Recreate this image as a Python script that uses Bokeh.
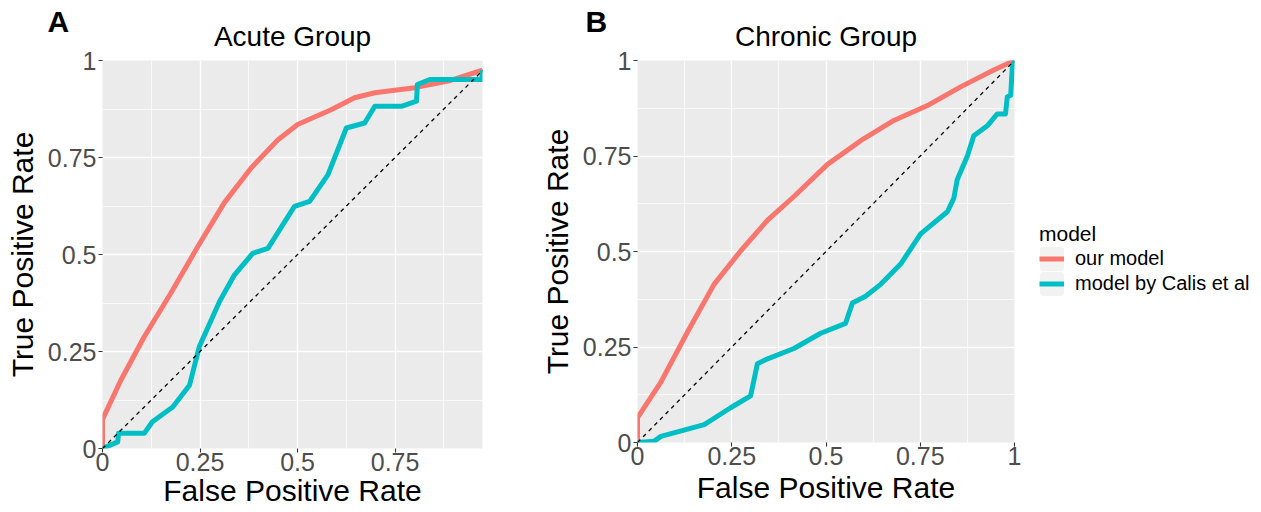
from bokeh.plotting import figure
from bokeh.models import (FixedTicker, Legend, LegendItem, Title, ColumnDataSource, Range1d)
from bokeh.layouts import row
from bokeh.embed import file_html
from bokeh.resources import INLINE

# ---------------- data ----------------
tick_values = [0, 0.25, 0.5, 0.75, 1]
tick_labels = ["0", "0.25", "0.5", "0.75", "1"]
minor_values = [0.125, 0.375, 0.625, 0.875]

series_names = ["our model", "model by Calis et al"]
series_colors = ["#F8766D", "#00BFC4"]

acute_our_fpr = [0, 0, 0.047, 0.107, 0.175, 0.244, 0.312, 0.381, 0.45, 0.50, 0.586, 0.646, 0.698, 0.80, 0.886, 0.974]
acute_our_tpr = [0, 0.075, 0.176, 0.288, 0.40, 0.52, 0.633, 0.723, 0.796, 0.835, 0.873, 0.904, 0.917, 0.930, 0.947, 0.975]

acute_calis_fpr = [0, 0.039, 0.041, 0.107, 0.128, 0.18, 0.223, 0.248, 0.30, 0.338, 0.385, 0.424, 0.492, 0.531,
                   0.578, 0.625, 0.672, 0.698, 0.766, 0.805, 0.807, 0.839, 0.972, 0.974]
acute_calis_tpr = [0, 0.017, 0.039, 0.039, 0.069, 0.107, 0.163, 0.262, 0.379, 0.447, 0.503, 0.516, 0.624, 0.637,
                   0.706, 0.826, 0.839, 0.882, 0.882, 0.895, 0.938, 0.951, 0.951, 0.975]

chronic_our_fpr = [0, 0, 0.062, 0.133, 0.203, 0.274, 0.345, 0.415, 0.504, 0.592, 0.680, 0.769, 0.857, 0.945, 1.0]
chronic_our_tpr = [0, 0.065, 0.158, 0.29, 0.414, 0.502, 0.582, 0.644, 0.728, 0.79, 0.843, 0.882, 0.931, 0.975, 1.0]

chronic_calis_fpr = [0, 0.044, 0.062, 0.177, 0.247, 0.30, 0.318, 0.345, 0.415, 0.486, 0.552, 0.57, 0.605, 0.645,
                     0.698, 0.751, 0.822, 0.839, 0.848, 0.875, 0.892, 0.928, 0.954, 0.976, 0.981, 0.99, 0.994, 1.0]
chronic_calis_tpr = [0, 0.003, 0.016, 0.047, 0.091, 0.122, 0.206, 0.219, 0.246, 0.286, 0.312, 0.365, 0.383, 0.414,
                     0.467, 0.546, 0.604, 0.639, 0.688, 0.75, 0.803, 0.829, 0.86, 0.86, 0.905, 0.909, 0.98, 1.0]

diag = [0, 1]

FONT = "Liberation Sans"
nan = float("nan")


def make_panel(title, letter, xmax, our, calis, fw, fh, bl, bt, br, bb,
               letter_offset, xlab_standoff):
    p = figure(frame_width=fw, frame_height=fh, x_range=Range1d(0, xmax), y_range=Range1d(0, 1),
               output_backend="svg", toolbar_location=None,
               min_border_left=bl, min_border_top=bt, min_border_right=br, min_border_bottom=bb,
               background_fill_color="#EBEBEB", border_fill_color="white", outline_line_color=None)
    # outermost (blank) title only reserves space at the very top
    p.title.text = " "
    p.title.text_font = FONT
    p.title.text_font_size = "10px"
    p.title.standoff = -3
    # inner title: group name, centred over the panel
    p.add_layout(Title(text=title, align="center", standoff=17,
                       text_font=FONT, text_font_size="28px", text_font_style="normal",
                       text_color="black"), "above")
    # next title out: bold panel letter, shifted to the left of the panel
    p.add_layout(Title(text=letter, align="left", offset=letter_offset, standoff=-54,
                       text_font=FONT, text_font_size="30px", text_font_style="bold",
                       text_color="black"), "above")

    for ax in (p.xaxis[0], p.yaxis[0]):
        ax.ticker = FixedTicker(ticks=tick_values, minor_ticks=minor_values)
        ax.major_label_overrides = {v: s for v, s in zip(tick_values, tick_labels)}
        ax.axis_line_color = None
        ax.major_tick_line_color = "#333333"
        ax.major_tick_line_width = 1.1
        ax.major_tick_in = 0
        ax.major_tick_out = 4
        ax.minor_tick_line_color = None
        ax.major_label_text_font = FONT
        ax.major_label_text_font_size = "25px"
        ax.major_label_text_color = "#4D4D4D"
        ax.axis_label_text_font = FONT
        ax.axis_label_text_font_size = "30px"
        ax.axis_label_text_font_style = "normal"
        ax.axis_label_text_color = "black"
    p.xaxis.major_label_standoff = 0
    p.xaxis.major_label_text_line_height = 0.9
    p.xaxis.axis_label_text_line_height = 0.9
    p.xaxis.axis_label_standoff = xlab_standoff
    p.yaxis.major_label_standoff = 2
    p.yaxis.axis_label_standoff = 6
    p.xaxis.axis_label = "False Positive Rate"
    p.yaxis.axis_label = "True Positive Rate"

    p.grid.grid_line_color = "white"
    p.grid.grid_line_width = 1.4
    p.grid.minor_grid_line_color = "white"
    p.grid.minor_grid_line_width = 0.7

    r_our = p.line(our[0], our[1], line_color=series_colors[0], line_width=5, line_join="round")
    r_cal = p.line(calis[0], calis[1], line_color=series_colors[1], line_width=5, line_join="round")
    p.line(diag, diag, line_color="black", line_width=1.3, line_dash="4 4")
    return p, r_our, r_cal


pA, _, _ = make_panel("Acute Group", "A", 0.974, (acute_our_fpr, acute_our_tpr),
                      (acute_calis_fpr, acute_calis_tpr), 380, 388, 102, 52, 50, 56, -55, 0)
pB, rB_our, rB_cal = make_panel("Chronic Group", "B", 1.0, (chronic_our_fpr, chronic_our_tpr),
                                (chronic_calis_fpr, chronic_calis_tpr), 377, 382, 105, 52, 236, 62, -52, 3)

box_src = ColumnDataSource(dict(l=[nan], r=[nan], b=[nan], t=[nan]))
box1 = pB.quad(left="l", right="r", bottom="b", top="t", source=box_src, fill_color="#F2F2F2",
               line_color="#F2F2F2", line_width=4)
box2 = pB.quad(left="l", right="r", bottom="b", top="t", source=box_src, fill_color="#F2F2F2",
               line_color="#F2F2F2", line_width=4)

legend = Legend(items=[LegendItem(label=series_names[0], renderers=[box1, rB_our]),
                       LegendItem(label=series_names[1], renderers=[box2, rB_cal])],
                title="model", location=(25, 146), orientation="vertical",
                border_line_color=None, background_fill_alpha=0,
                padding=0, margin=0, spacing=0, glyph_width=25, glyph_height=25, label_standoff=11,
                label_text_font=FONT, label_text_font_size="20px", label_text_color="black",
                title_text_font=FONT, title_text_font_size="21px", title_text_font_style="normal",
                title_text_color="black", title_standoff=-10, label_height=25)
pB.add_layout(legend, "right")

layout = row(pA, pB)
open("out.html", "w").write(file_html(layout, INLINE))
